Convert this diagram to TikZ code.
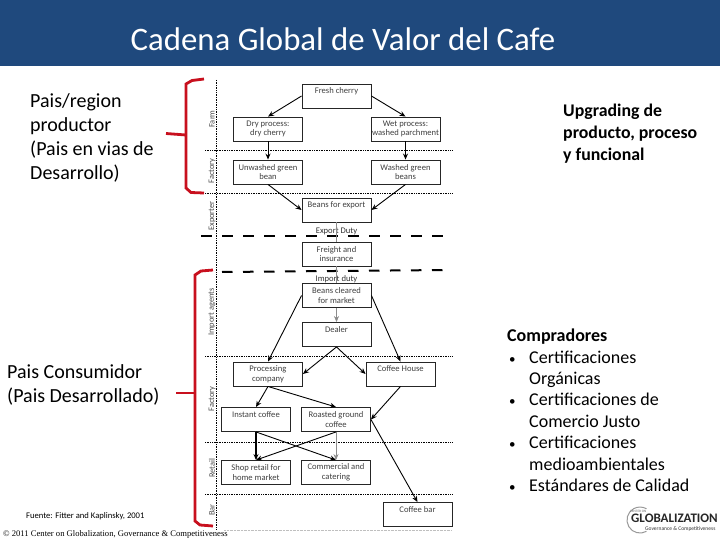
\documentclass[tikz,border=0pt]{standalone}
\usepackage{fontspec}
\setmainfont{Carlito}
\newfontfamily\copyfont{Liberation Serif}
\usetikzlibrary{arrows.meta}
\definecolor{bandblue}{HTML}{1F497D}
\definecolor{bracered}{HTML}{C8101E}

\begin{document}
\begin{tikzpicture}[x=1pt, y=-1pt, line join=miter,
  boxnode/.style={draw=black!85, line width=0.9pt, fill=white, minimum width=69pt, minimum height=24pt,
    inner sep=0pt, align=center, font=\fontsize{8.6}{9.6}\selectfont, text=black!75},
  oneline/.style={text height=6pt, text depth=11pt},
  flow/.style={-{Stealth[length=6pt, width=5pt]}, line width=0.9pt},
  thinflow/.style={flow, draw=black!45, line width=0.7pt},
  stage/.style={rotate=90, inner sep=0pt, font=\fontsize{8.4}{9}\selectfont, text=black!70},
  sideline/.style={black, densely dotted, line width=0.7pt},
  cutline/.style={black, line width=2pt, dash pattern=on 10.5pt off 10.5pt},
  brace/.style={bracered, line width=2.8pt},
  sidetext/.style={anchor=north west, inner sep=0pt, align=left, text=black, font=\fontsize{20}{24}\selectfont},
  listtext/.style={sidetext, font=\fontsize{18}{21.4}\selectfont},
]
  \useasboundingbox (0,0) rectangle (720,540);
  \fill[white] (0,0) rectangle (720,540);
  % franja del titulo
  \fill[bandblue] (0,0) rectangle (720,66);
  \node[text=white, inner sep=0pt, font=\fontsize{32.8}{36}\selectfont] (title) at (343,39) {Cadena Global de Valor del Cafe};

  % lineas de etapas
  \draw[sideline] (216,80) -- (216,530);
  \foreach \yy in {150,193,356,442,494} \draw[sideline] (205,\yy) -- (452,\yy);
  \draw[black!25, densely dotted] (224,530) -- (452,530);
  \draw[cutline] (201,236) -- (447,236);
  \draw[cutline] (222,272) -- (447,270);

  % etapas
  \node[stage] (farm) at (212,119) {Farm};
  \node[stage] (factorya) at (212,171) {Factory};
  \node[stage] (exporter) at (212,216) {Exporter};
  \node[stage] (importag) at (212,312) {Import agents};
  \node[stage] (factoryb) at (212,399) {Factory};
  \node[stage] (retail) at (212,468) {Retail};
  \node[stage] (bar) at (212,510) {Bar};

  % cajas
  \node[boxnode, oneline] (fresh) at (336.5,96) {Fresh cherry};
  \node[boxnode] (dry) at (268,129) {Dry process:\\dry cherry};
  \node[boxnode] (wet) at (405.5,129) {Wet process:\\washed parchment};
  \node[boxnode] (unwashed) at (268,172) {Unwashed green\\bean};
  \node[boxnode] (washed) at (405.5,172) {Washed green\\beans};
  \node[boxnode, oneline] (export) at (336.5,210) {Beans for export};
  \node[boxnode] (freight) at (336.5,254) {Freight and\\insurance};
  \node[boxnode] (cleared) at (336.5,295.5) {Beans cleared\\for market};
  \node[boxnode, oneline] (dealer) at (336.5,334.5) {Dealer};
  \node[boxnode] (processing) at (268,374) {Processing\\company};
  \node[boxnode, oneline] (house) at (400.5,374) {Coffee House};
  \node[boxnode, oneline] (instant) at (256,419.5) {Instant coffee};
  \node[boxnode] (roasted) at (336,419.5) {Roasted ground\\coffee};
  \node[boxnode] (shop) at (256,472.5) {Shop retail for\\home market};
  \node[boxnode] (commercial) at (336,472.5) {Commercial and\\catering};
  \node[boxnode, oneline] (coffeebar) at (417.5,514.5) {Coffee bar};

  % textos de impuestos
  \node[inner sep=0pt, font=\fontsize{8.6}{9}\selectfont, text=black!80] (expduty) at (336.5,231) {Export Duty};
  \node[inner sep=0pt, font=\fontsize{8.6}{9}\selectfont, text=black!80] (impduty) at (336.5,279) {Import duty};

  % flechas
  \draw[flow] (fresh.west) -- (dry.north);
  \draw[flow] (fresh.east) -- (wet.north);
  \draw[flow] (dry) -- (unwashed);
  \draw[flow] (wet) -- (washed);
  \draw[flow] (unwashed.south) -- (export.west);
  \draw[flow] (washed.south) -- (export.east);
  \draw[black!45, line width=0.6pt] (export) -- (freight);
  \draw[black!45, line width=0.6pt] (freight) -- (cleared);
  \draw[thinflow] (cleared) -- (dealer);
  \draw[flow] (cleared.west) -- (processing.north);
  \draw[flow] (cleared.east) -- (house.north);
  \draw[flow] (dealer.south) -- (processing.east);
  \draw[flow] (dealer.south) -- (house.west);
  \draw[flow] (processing.south) -- (instant.north);
  \draw[flow] (processing.south) -- (roasted.north);
  \draw[flow] (house.south) -- (roasted.east);
  \draw[flow] (roasted.east) -- (coffeebar.north);
  \draw[flow, line width=1.1pt] (instant) -- (shop);
  \draw[flow] (instant.south) -- (commercial.north);
  \draw[flow] (roasted.south) -- (shop.north);
  \draw[thinflow] (roasted) -- (commercial);

  % llaves rojas
  \draw[brace] (204,79) -- (192,80.5) -- (186,84) -- (186,188) -- (191,192.5) -- (204,193);
  \draw[brace] (166,133.5) -- (186,135);
  \draw[brace] (213,270) -- (201,271) -- (195,275) -- (195,521) -- (200,525) -- (213,526);
  \draw[brace] (176,393) -- (195,393);

  % textos laterales
  \node[sidetext] (origen) at (30,93) {Pais/region\\productor\\(Pais en vias de\\Desarrollo)};
  \node[sidetext] (consumo) at (7,364) {Pais Consumidor\\(Pais Desarrollado)};
  \node[listtext, font=\fontsize{17.8}{22}\selectfont\bfseries] (upgrading) at (563,104) {Upgrading de\\producto, proceso\\y funcional};
  \node[listtext] (compradores) at (507,329) {\textbf{Compradores}};
  \node[listtext] (lista) at (507,350.5) {%
    \makebox[22pt][l]{\hspace{2pt}\fontsize{13}{13}\selectfont\textbullet}Certificaciones\\
    \makebox[22pt][l]{}Orgánicas\\
    \makebox[22pt][l]{\hspace{2pt}\fontsize{13}{13}\selectfont\textbullet}Certificaciones de\\
    \makebox[22pt][l]{}Comercio Justo\\
    \makebox[22pt][l]{\hspace{2pt}\fontsize{13}{13}\selectfont\textbullet}Certificaciones\\
    \makebox[22pt][l]{}medioambientales\\
    \makebox[22pt][l]{\hspace{2pt}\fontsize{13}{13}\selectfont\textbullet}Estándares de Calidad};

  % pie
  \node[anchor=west, inner sep=0pt, font=\fontsize{8.6}{9}\selectfont] (fuente) at (26,516) {Fuente: Fitter and Kaplinsky, 2001};
  \node[anchor=west, inner sep=0pt, font=\copyfont\fontsize{8.6}{9}\selectfont] (derechos) at (3,534) {© 2011 Center on Globalization, Governance \& Competitiveness};

  % logo
  \draw[black!40, line width=1pt] (646.5,531.3) arc (60:300:13);
  \node[anchor=west, inner sep=0pt, font=\fontsize{3.4}{4}\selectfont, text=black!60] (centeron) at (630,511) {CENTER ON};
  \node[anchor=west, inner sep=0pt, font=\fontsize{13}{14}\selectfont\bfseries, text=black!85] (globalization) at (631,518.5) {GLOBALIZATION};
  \node[anchor=west, inner sep=0pt, font=\fontsize{5.5}{7}\selectfont, text=black!80] (governance) at (645,529) {Governance \& Competitiveness};
\end{tikzpicture}
\end{document}
